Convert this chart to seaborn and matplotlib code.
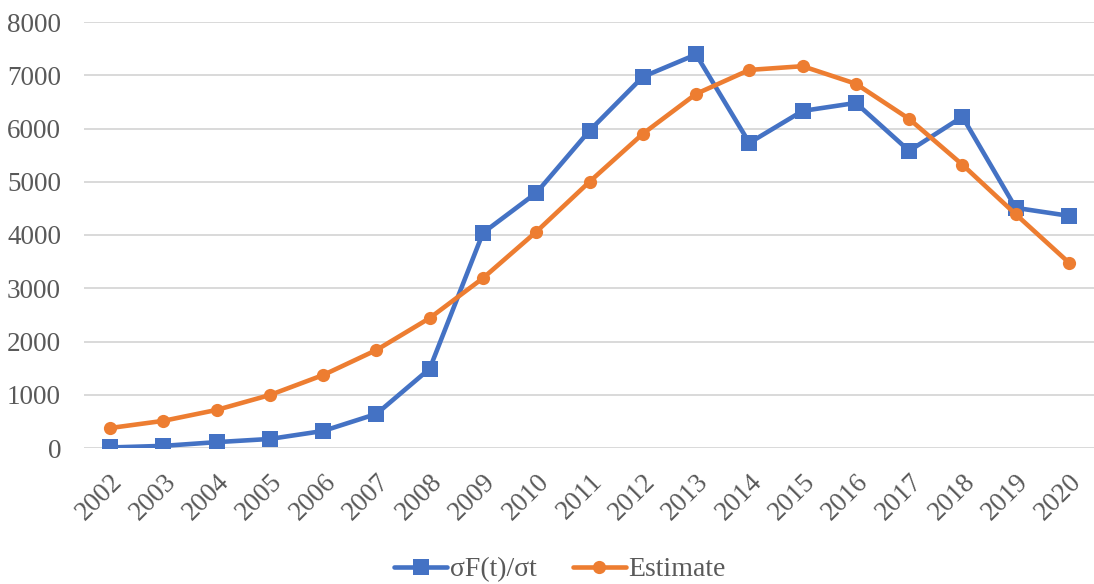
import numpy as np
import pandas as pd
import matplotlib
matplotlib.use("Agg")
import matplotlib.pyplot as plt
import seaborn as sns

years = list(range(2002, 2021))
observed = [10, 40, 110, 170, 320, 640, 1490, 4040, 4790, 5960, 6970, 7390,
            5730, 6330, 6480, 5580, 6220, 4510, 4360]
estimate = [375, 510, 715, 995, 1370, 1840, 2440, 3190, 4060, 5000, 5900, 6650,
            7100, 7170, 6840, 6180, 5320, 4390, 3480]
series_names = ["σF(t)/σt", "Estimate"]
colors = ["#4472C4", "#ED7D31"]

sns.set_theme(style="white")
plt.rcParams["font.family"] = ["Liberation Serif", "DejaVu Serif"]

idx = np.arange(len(years))
df = pd.DataFrame({
    "idx": np.concatenate([idx, idx]),
    "value": observed + estimate,
    "series": [series_names[0]] * len(years) + [series_names[1]] * len(years),
})

fig = plt.figure(figsize=(10.94, 5.84), dpi=100)
ax = fig.add_axes([84 / 1094, 1 - 448 / 584, 1010 / 1094, (448 - 22) / 584])

sns.lineplot(data=df, x="idx", y="value", hue="series", style="series",
             palette=dict(zip(series_names, colors)),
             markers={series_names[0]: "s", series_names[1]: "o"},
             dashes=False, linewidth=3.3, ax=ax, legend=False)
for line, ms in zip(ax.lines, [12, 9.5]):
    line.set_markersize(ms)
    line.set_markeredgewidth(0)

ax.set_xlim(-0.49, 18.47)
ax.set_ylim(0, 8000)
ax.set_yticks(range(0, 8001, 1000))
ax.set_xticks(idx)
ax.set_xticklabels([str(y) for y in years], rotation=45, ha="right",
                   rotation_mode="anchor")
ax.tick_params(axis="both", labelsize=19.5, labelcolor="#595959", length=0)
ax.tick_params(axis="y", pad=16.5)
ax.tick_params(axis="x", pad=15)
ax.set_xlabel("")
ax.set_ylabel("")
ax.grid(axis="y", color="#D9D9D9", linewidth=1.4)
ax.set_axisbelow(True)
for s in ax.spines.values():
    s.set_visible(False)

handles = [
    plt.Line2D([], [], color=colors[0], lw=3.3, marker="s", markersize=12, markeredgewidth=0),
    plt.Line2D([], [], color=colors[1], lw=3.3, marker="o", markersize=9.5, markeredgewidth=0),
]
leg = fig.legend(handles, series_names, loc="lower center", bbox_to_anchor=(0.512, -0.04),
                 ncol=2, frameon=False, fontsize=20, handlelength=1.9,
                 handletextpad=0.1, columnspacing=1.3)
for t in leg.get_texts():
    t.set_color("#595959")

fig.savefig("out.png", dpi=100)
